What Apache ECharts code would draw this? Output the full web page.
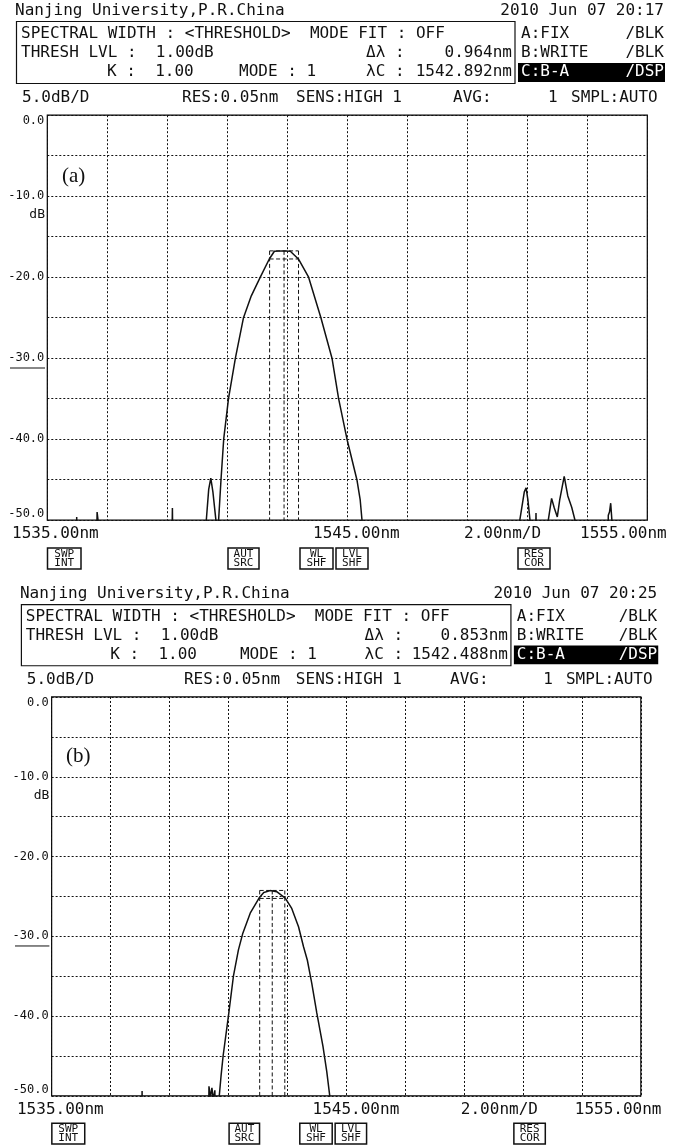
<!DOCTYPE html>
<html><head><meta charset="utf-8">
<script src="https://cdn.jsdelivr.net/npm/echarts@6/dist/echarts.min.js"></script>
<style>html,body{margin:0;padding:0;background:#fff}#c{width:687px;height:1147px}</style>
</head><body><div id="c"></div>
<script>
// ---------------- data ----------------
const titleText = 'Nanjing University,P.R.China';
const dateText = ['2010 Jun 07 20:17', '2010 Jun 07 20:25'];
const panelTag = ['(a)', '(b)'];
const centerWave = [1542.892, 1542.488];
const spectralWidth = [0.964, 0.853];
const peakLevel = [-16.75, -24.25];
const threshLevel = 1.00;
const xTickLabels = ['1535.00nm', '1545.00nm', '2.00nm/D', '1555.00nm'];
const statusItems = ['5.0dB/D', 'RES:0.05nm', 'SENS:HIGH 1', 'AVG:', '1', 'SMPL:AUTO'];
const traceModes = [['A:FIX', '/BLK'], ['B:WRITE', '/BLK'], ['C:B-A', '/DSP']];
const softKeys = [['SWP', 'INT'], ['AUT', 'SRC'], ['WL', 'SHF'], ['LVL', 'SHF'], ['RES', 'COR']];

const waveA = [1535.00,1535.95,1535.98,1536.01,1536.62,1536.66,1536.70,1536.75,1539.13,1539.17,1539.21,
  1540.24,1540.30,1540.38,1540.45,1540.52,1540.62,1540.665,1540.69,1540.71,1540.79,1540.88,1541.04,1541.27,
  1541.54,1541.80,1542.10,1542.40,1542.57,1542.83,1543.10,1543.37,1543.71,1544.12,1544.49,1544.71,1544.99,
  1545.32,1545.43,1545.49,1545.52,1550.68,1550.75,1550.90,1550.96,1551.02,1551.09,1551.12,1551.25,1551.29,
  1551.33,1551.62,1551.70,1551.81,1551.90,1552.00,1552.08,1552.23,1552.35,1552.48,1552.59,1552.62,1553.66,
  1553.70,1553.74,1553.78,1553.82,1553.85,1555.00];
const levelA = [-60,-60,-49.6,-60,-60,-49.0,-50.3,-60,-60,-48.5,-60,
  -60,-50,-46.2,-44.8,-46.5,-50,-60,-60,-50,-45,-40,-35,-30,
  -25,-22.3,-20,-17.75,-16.8,-16.75,-16.8,-17.75,-20,-25,-30,-35,-40,
  -45,-47.5,-50,-60,-60,-50,-46.5,-46,-47.5,-50,-60,-60,-49.1,
  -60,-60,-50,-47.3,-48.5,-49.6,-47.5,-44.6,-47,-48.4,-50,-60,-60,
  -49.4,-49.0,-47.9,-50,-60,-60];

const waveB = [1535.00,1538.04,1538.07,1538.10,1540.31,1540.34,1540.39,1540.44,1540.49,1540.54,1540.59,
  1540.66,1540.69,1540.75,1540.82,1541.00,1541.17,1541.34,1541.49,1541.74,1542.04,1542.20,1542.42,1542.64,
  1542.93,1543.15,1543.38,1543.55,1543.68,1543.83,1544.00,1544.21,1544.34,1544.44,1544.47,1555.00];
const levelB = [-60,-60,-49.4,-60,-60,-48.8,-50.2,-49.0,-50.5,-49.3,-60,
  -60,-50,-47.5,-45,-40,-35,-31.7,-29.6,-27.1,-25.2,-24.5,-24.27,-24.4,
  -25.2,-26.5,-28.8,-31.3,-33.0,-35.9,-39.6,-43.8,-47,-50,-60,-60];

// ---------------- layout ----------------
const MONO = '"DejaVu Sans Mono", monospace';
const panels = [{sx:1, sy:1, dx:0, dy:0}, {sx:0.982, sy:0.985, dx:5.2, dy:583.5}];
const plotBox = {x:47.3, y:115.2, w:600, h:405};
const statusX = [22, 182, 296, 453, 548, 571];
const xLabelX = [12, 313, 464, 580];
const keyX = [[47.5, 81], [228, 259], [300, 333], [336, 368], [518, 550]];

function T(p, x, y, text, o) {
  o = o || {};
  const al = o.align || 'left';
  return {type:'text', x:p.dx + p.sx*x, y:p.dy + p.sy*y, z:100, silent:true,
    style:{text:text, font:(o.size||16)+'px '+(o.family||MONO), fill:o.fill||'#111',
      align:al, verticalAlign:'middle', textAlign:al, textVerticalAlign:'middle'}};
}
function R(p, x, y, w, h, o) {
  return {type:'rect', z:99, silent:true,
    shape:{x:p.dx + p.sx*x, y:p.dy + p.sy*y, width:p.sx*w, height:p.sy*h},
    style:{fill:o.fill||'none', stroke:o.stroke||null, lineWidth:o.lw||1}};
}
function Ln(p, x1, y1, x2, y2) {
  return {type:'line', z:99, silent:true,
    shape:{x1:p.dx+p.sx*x1, y1:p.dy+p.sy*y1, x2:p.dx+p.sx*x2, y2:p.dy+p.sy*y2},
    style:{stroke:'#111', lineWidth:1}};
}

const graphics = [];
panels.forEach((p, i) => {
  const dl = spectralWidth[i].toFixed(3) + 'nm';
  const lc = centerWave[i].toFixed(3) + 'nm';
  graphics.push(T(p, 15, 11, titleText));
  graphics.push(T(p, 664, 11, dateText[i], {align:'right'}));
  graphics.push(R(p, 16.5, 21.5, 498.5, 62, {stroke:'#111', lw:1.2}));
  graphics.push(T(p, 21, 34, 'SPECTRAL WIDTH : <THRESHOLD>  MODE FIT : OFF'));
  graphics.push(T(p, 21, 53, 'THRESH LVL :  ' + threshLevel.toFixed(2) + 'dB'));
  graphics.push(T(p, 366, 53, 'Δλ :'));
  graphics.push(T(p, 512, 53, dl, {align:'right'}));
  graphics.push(T(p, 107, 72, 'K :  1.00'));
  graphics.push(T(p, 239, 72, 'MODE : 1'));
  graphics.push(T(p, 366, 72, 'λC :'));
  graphics.push(T(p, 512, 72, lc, {align:'right'}));
  graphics.push(R(p, 518, 63, 147, 19, {fill:'#000'}));
  traceModes.forEach((m, k) => {
    const c = k === 2 ? '#fff' : '#111';
    graphics.push(T(p, 521, 34 + 19*k, m[0], {fill:c}));
    graphics.push(T(p, 664, 34 + 19*k, m[1], {fill:c, align:'right'}));
  });
  statusItems.forEach((s, k) => graphics.push(T(p, statusX[k], 98, s)));
  xTickLabels.forEach((s, k) => graphics.push(T(p, xLabelX[k], 534, s)));
  softKeys.forEach((s, k) => {
    const [x0, x1] = keyX[k];
    graphics.push(R(p, x0, 548, x1 - x0, 21, {stroke:'#111', lw:1.5}));
    graphics.push(T(p, (x0+x1)/2, 553.8, s[0], {size:11, align:'center'}));
    graphics.push(T(p, (x0+x1)/2, 563.2, s[1], {size:11, align:'center'}));
  });
  graphics.push(T(p, 62, 176, panelTag[i], {size:21, family:'"Liberation Serif", serif'}));
  graphics.push(T(p, 45, 215, 'dB', {size:13, align:'right'}));
  graphics.push(Ln(p, 10, 368, 45, 368));
});

// ---------------- chart ----------------
const grids = panels.map(p => ({
  left:p.dx + p.sx*plotBox.x, top:p.dy + p.sy*plotBox.y,
  width:p.sx*plotBox.w, height:p.sy*plotBox.h,
  show:true, borderColor:'#000', borderWidth:1.2, backgroundColor:'transparent', containLabel:false
}));
const dotted = {show:true, lineStyle:{type:[2,2], color:'#111', width:1}};
const xAxes = [], yAxes = [];
panels.forEach((p, i) => {
  xAxes.push({gridIndex:i, type:'value', min:1535, max:1555,
    axisLine:{show:false}, axisTick:{show:false}, axisLabel:{show:false}, splitLine:{show:false}});
  xAxes.push({gridIndex:i, type:'value', min:0, max:10, interval:1, position:'top',
    axisLine:{show:false}, axisTick:{show:false}, axisLabel:{show:false}, splitLine:dotted});
  yAxes.push({gridIndex:i, type:'value', min:-50, max:0, interval:5,
    axisLine:{show:false}, axisTick:{show:false}, splitLine:dotted,
    axisLabel:{show:true, margin:3, fontSize:12, fontFamily:'DejaVu Sans Mono', color:'#111',
      verticalAlignMinLabel:'bottom', verticalAlignMaxLabel:'top',
      formatter:v => (Math.round(v) % 10 === 0 ? v.toFixed(1) : '')}});
});

const traces = [[waveA, levelA], [waveB, levelB]];
const series = [];
traces.forEach((t, i) => {
  series.push({type:'line', xAxisIndex:2*i, yAxisIndex:i, showSymbol:false, clip:true, z:5,
    lineStyle:{color:'#111', width:1.5}, data:t[0].map((w, k) => [w, t[1][k]])});
  const l = centerWave[i] - spectralWidth[i]/2, r = centerWave[i] + spectralWidth[i]/2;
  const pk = peakLevel[i], th = pk - threshLevel;
  const segs = [
    [[l, pk], [l, -50]], [[centerWave[i], pk], [centerWave[i], -50]], [[r, pk], [r, -50]],
    [[l, pk], [r, pk]], [[l, th], [r, th]]
  ];
  segs.forEach(s => series.push({type:'line', xAxisIndex:2*i, yAxisIndex:i, showSymbol:false, z:4,
    lineStyle:{color:'#111', width:1, type:[4,2.5]}, data:s}));
});

const chart = echarts.init(document.getElementById('c'), null, {renderer:'canvas'});
chart.setOption({animation:false, backgroundColor:'#fff', grid:grids, xAxis:xAxes, yAxis:yAxes,
  series:series, graphic:graphics});
</script></body></html>
